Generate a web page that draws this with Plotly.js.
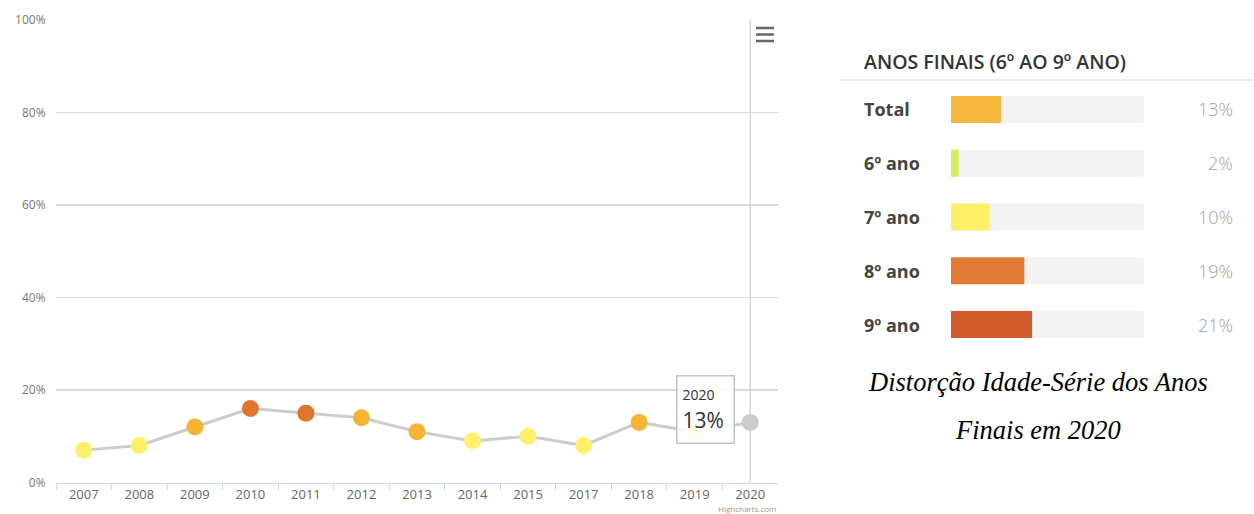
<!DOCTYPE html>
<html>
<head>
<meta charset="utf-8">
<script src="https://cdn.plot.ly/plotly-3.0.1.min.js"></script>
<style>html,body{margin:0;padding:0;background:#fff;}#chart{width:1254px;height:514px;}</style>
</head>
<body>
<div id="chart"></div>
<script>
// ---- data ----
const years = ['2007','2008','2009','2010','2011','2012','2013','2014','2015','2017','2018','2019','2020'];
const rates = [7, 8, 12, 16, 15, 14, 11, 9, 10, 8, 13, 11, 13];
const grades = ['Total', '6º ano', '7º ano', '8º ano', '9º ano'];
const gradeRates = [13, 2, 10, 19, 21];
const yTickVals = [0, 20, 40, 60, 80, 100];
const barMax = 50;
const panelTitle = 'ANOS FINAIS (6º AO 9º ANO)';
const captionLines = ['Distorção Idade-Série dos Anos', 'Finais em 2020'];
const tooltipYear = '2020';

// ---- styles ----
const YEL = '#fff06a', ORG = '#f6b334', DRK = '#e0762c', GRY = '#cccccc';
const pointColors = [YEL, YEL, ORG, DRK, DRK, ORG, ORG, YEL, YEL, YEL, ORG, YEL, GRY];
const gradeColors = ['#f5b83d', '#d6ee5a', '#fff06a', '#e27a35', '#d35a2c'];
const W = 1254, H = 514;
const px = v => v / W, py = v => (H - v) / H;

const traces = [
  {
    type: 'scatter', mode: 'lines+markers', x: years, y: rates,
    xaxis: 'x', yaxis: 'y',
    line: {color: '#cccccc', width: 3},
    marker: {size: 17, color: pointColors, line: {width: 0}},
    hoverinfo: 'skip'
  },
  {
    type: 'bar', orientation: 'h', x: grades.map(() => barMax), y: grades,
    xaxis: 'x2', yaxis: 'y2', width: 0.5,
    marker: {color: '#f3f3f3', cornerradius: 3, line: {width: 0}},
    hoverinfo: 'skip'
  },
  {
    type: 'bar', orientation: 'h', x: gradeRates, y: grades,
    xaxis: 'x2', yaxis: 'y2', width: 0.5,
    marker: {color: gradeColors, cornerradius: 3, line: {width: 0}},
    hoverinfo: 'skip'
  }
];

const annotations = [];
grades.forEach((g, i) => {
  annotations.push({xref: 'paper', yref: 'y2', x: px(862), y: i, xanchor: 'left', yanchor: 'middle',
    text: g, showarrow: false, font: {family: 'Open Sans', size: 18, color: '#444444', weight: 700}});
  annotations.push({xref: 'paper', yref: 'y2', x: px(1235), y: i, xanchor: 'right', yanchor: 'middle',
    text: gradeRates[i] + '%', showarrow: false, font: {family: 'Open Sans', size: 18, color: '#a0a0a0', weight: 300}});
});
annotations.push({xref: 'paper', yref: 'paper', x: px(862), y: py(61), xanchor: 'left', yanchor: 'middle',
  text: panelTitle, showarrow: false, font: {family: 'Open Sans', size: 19.5, color: '#333333', weight: 600}});
annotations.push({xref: 'paper', yref: 'paper', x: px(1038), y: py(382), xanchor: 'center', yanchor: 'middle',
  text: captionLines[0], showarrow: false, font: {family: 'Liberation Serif', size: 26.5, color: '#000000', style: 'italic'}});
annotations.push({xref: 'paper', yref: 'paper', x: px(1038), y: py(430), xanchor: 'center', yanchor: 'middle',
  text: captionLines[1], showarrow: false, font: {family: 'Liberation Serif', size: 26.5, color: '#000000', style: 'italic'}});
annotations.push({xref: 'paper', yref: 'paper', x: px(778), y: py(508), xanchor: 'right', yanchor: 'middle',
  text: 'Highcharts.com', showarrow: false, font: {family: 'Open Sans', size: 8, color: '#999999'}});
// tooltip (category axis: use the category index)
const ti = years.indexOf(tooltipYear);
annotations.push({xref: 'x', yref: 'y', x: ti, y: rates[ti], xshift: -45, yshift: 13,
  showarrow: false, align: 'left', width: 46, height: 56, borderpad: 5,
  bgcolor: 'rgba(255,255,255,0.88)', bordercolor: '#c4c4c4', borderwidth: 1.5,
  text: '<span style="font-size:14px">' + tooltipYear + '</span><br><span style="font-size:21px">' + rates[ti] + '%</span>',
  font: {family: 'Open Sans', color: '#333333', size: 21}});

const shapes = [
  // crosshair
  {type: 'line', xref: 'x', yref: 'y', x0: ti, x1: ti, y0: 0, y1: 100, line: {color: '#cccccc', width: 1.2}, layer: 'below'},
  // separator under panel title
  {type: 'line', xref: 'paper', yref: 'paper', x0: px(840), x1: 1, y0: py(80), y1: py(80), line: {color: '#e6e6e6', width: 1.5}},
  // menu icon
  {type: 'line', xref: 'paper', yref: 'paper', x0: px(756), x1: px(774), y0: py(28), y1: py(28), line: {color: '#666666', width: 2.5}},
  {type: 'line', xref: 'paper', yref: 'paper', x0: px(756), x1: px(774), y0: py(34.5), y1: py(34.5), line: {color: '#666666', width: 2.5}},
  {type: 'line', xref: 'paper', yref: 'paper', x0: px(756), x1: px(774), y0: py(41), y1: py(41), line: {color: '#666666', width: 2.5}}
];

const layout = {
  width: W, height: H,
  margin: {l: 0, r: 0, t: 0, b: 0},
  paper_bgcolor: '#ffffff', plot_bgcolor: 'rgba(0,0,0,0)',
  showlegend: false, hovermode: false, barmode: 'overlay',
  font: {family: 'Open Sans', color: '#666666'},
  xaxis: {
    domain: [px(56), px(778)], type: 'category', categoryorder: 'array', categoryarray: years,
    range: [-0.5, years.length - 0.5], tickson: 'boundaries', ticks: 'outside', ticklen: 6,
    tickcolor: '#ccd6eb', showgrid: false, showline: true, linecolor: '#ccd6eb', linewidth: 1,
    tickfont: {family: 'Open Sans', size: 13, color: '#666666'}, fixedrange: true
  },
  yaxis: {
    domain: [py(482.5), py(20)], range: [0, 100], tickvals: yTickVals,
    ticktext: yTickVals.map(v => v + '%'), ticks: 'outside', ticklen: 7, tickcolor: 'rgba(0,0,0,0)',
    showgrid: true, gridcolor: '#d9d9d9', gridwidth: 1.3, zeroline: false, showline: false,
    tickfont: {family: 'Open Sans', size: 12, color: '#777777'}, fixedrange: true
  },
  xaxis2: {
    domain: [px(951), px(1144)], range: [0, barMax], anchor: 'y2',
    visible: false, showgrid: false, zeroline: false, fixedrange: true
  },
  yaxis2: {
    domain: [py(351.4), py(82.6)], type: 'category', categoryorder: 'array', categoryarray: grades,
    autorange: 'reversed', anchor: 'x2', visible: false, showgrid: false, zeroline: false, fixedrange: true
  },
  annotations: annotations,
  shapes: shapes
};

Plotly.newPlot('chart', traces, layout, {displayModeBar: false, staticPlot: true});
</script>
</body>
</html>
